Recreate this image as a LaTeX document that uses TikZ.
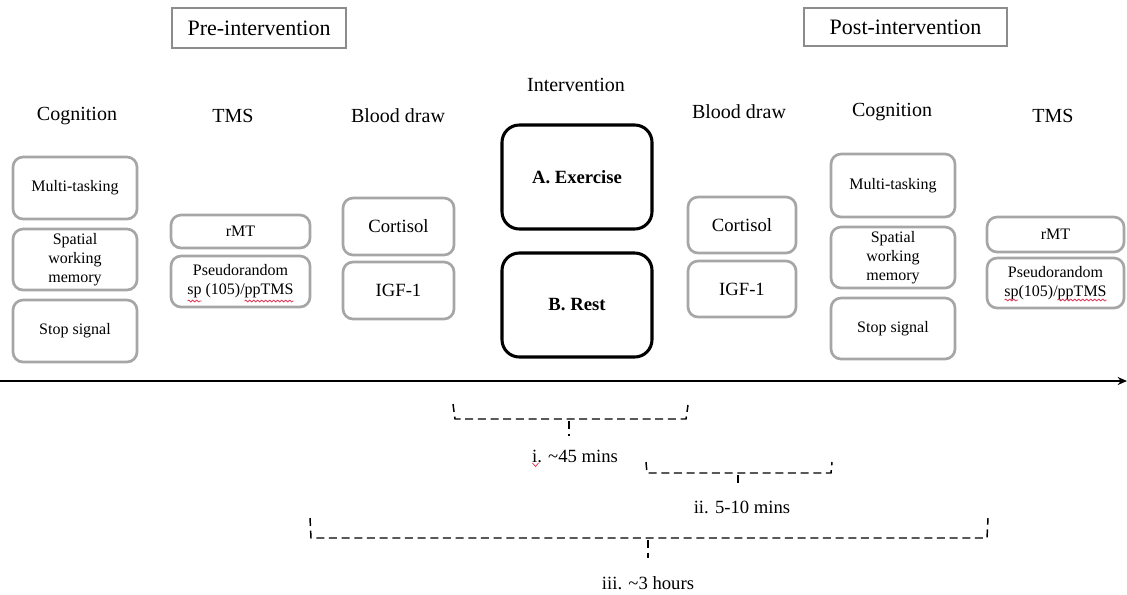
\documentclass[tikz,border=0pt]{standalone}
\usepackage{fontspec}
\setmainfont{Liberation Serif}
\usetikzlibrary{arrows.meta,decorations.pathmorphing}

\definecolor{boxgray}{RGB}{166,166,166}
\definecolor{framegray}{RGB}{140,140,140}
\definecolor{spellred}{RGB}{226,62,92}

\tikzset{every picture/.style={line width=0.75pt}}
\tikzset{
  phasebox/.style={draw=framegray, line width=0.9pt, inner sep=0pt, font=\fontsize{16.5}{19}\selectfont},
  colhead/.style={inner sep=0.75pt, font=\fontsize{15}{18}\selectfont},
  taskbox/.style={draw=boxgray, line width=2pt, rounded corners=7.5pt, inner sep=0pt, align=center, font=\fontsize{12}{14.25}\selectfont},
  bloodbox/.style={taskbox, font=\fontsize{14}{16}\selectfont},
  armbox/.style={draw=black, line width=2.3pt, rounded corners=13pt, inner sep=0pt, minimum width=112.5pt, minimum height=78pt, font=\bfseries\fontsize{14}{16}\selectfont},
  spanline/.style={line width=1.1pt, dash pattern={on 6pt off 3.5pt}},
  spanlabel/.style={inner sep=0.75pt, font=\fontsize{14}{16}\selectfont},
  squiggle/.style={spellred, line width=0.6pt, decorate, decoration={snake, amplitude=0.7pt, segment length=3pt}}
}

\begin{document}
\begin{tikzpicture}[x=0.75pt,y=0.75pt,yscale=-1,xscale=1]
	\useasboundingbox (0,0) rectangle (1127,594);
	
	% Phase labels
	\node [phasebox, minimum width=130.5pt, minimum height=30pt] (pre) at (259,28) {Pre-intervention};
	\node [phasebox, minimum width=152.25pt, minimum height=28.5pt] (post) at (905.5,27) {Post-intervention};
	
	% Text Node
	\node [colhead] (coghdpre) at (77,116) {Cognition};
	\node [colhead] (tmshdpre) at (233,116) {TMS};
	\node [colhead] (bloodhdpre) at (398,116) {Blood draw};
	\node [colhead] (armhd) at (576,85) {Intervention};
	\node [colhead] (bloodhdpost) at (739,112) {Blood draw};
	\node [colhead] (coghdpost) at (892,112) {Cognition};
	\node [colhead] (tmshdpost) at (1053,116) {TMS};
	
	%Rounded Rect  cognition, pre
	\node [taskbox, minimum width=93pt, minimum height=46.5pt] (multipre) at (75,188) {Multi-tasking};
	\node [taskbox, minimum width=93pt, minimum height=45.75pt] (spatialpre) at (75,259.5) {Spatial\\working\\memory};
	\node [taskbox, minimum width=93pt, minimum height=46.5pt] (stoppre) at (75,331) {Stop signal};
	
	%Rounded Rect  TMS, pre
	\node [taskbox, minimum width=104.25pt, minimum height=24.75pt] (rmtpre) at (240.5,231.5) {rMT};
	\node [taskbox, minimum width=104.25pt, minimum height=38.25pt] (pseudopre) at (240.5,281.5) {Pseudorandom\\sp (105)/ppTMS};
	
	%Rounded Rect  blood, pre
	\node [bloodbox, minimum width=83.25pt, minimum height=42.75pt] (cortpre) at (398.5,226.5) {Cortisol};
	\node [bloodbox, minimum width=83.25pt, minimum height=42.75pt] (igfpre) at (398.5,290.5) {IGF-1};
	
	%Rounded Rect  intervention
	\node [armbox] (exercise) at (577,177) {A. Exercise};
	\node [armbox] (rest) at (577,305) {B. Rest};
	
	%Rounded Rect  blood, post
	\node [bloodbox, minimum width=81pt, minimum height=42pt] (cortpost) at (742,225) {Cortisol};
	\node [bloodbox, minimum width=81pt, minimum height=42pt] (igfpost) at (742,289) {IGF-1};
	
	%Rounded Rect  cognition, post
	\node [taskbox, minimum width=93pt, minimum height=47.25pt] (multipost) at (893,185.5) {Multi-tasking};
	\node [taskbox, minimum width=93pt, minimum height=45.75pt] (spatialpost) at (893,257.5) {Spatial\\working\\memory};
	\node [taskbox, minimum width=93pt, minimum height=45.75pt] (stoppost) at (893,328.5) {Stop signal};
	
	%Rounded Rect  TMS, post
	\node [taskbox, minimum width=102.75pt, minimum height=26.25pt] (rmtpost) at (1055.5,234.5) {rMT};
	\node [taskbox, minimum width=102.75pt, minimum height=37.5pt] (pseudopost) at (1055.5,283) {Pseudorandom\\sp(105)/ppTMS};
	
	% spell check marks
	\draw [squiggle] (187.5,301) -- (201.5,301);
	\draw [squiggle] (244.5,301) -- (293.5,301);
	\draw [squiggle] (1004.5,300) -- (1018,300);
	\draw [squiggle] (1057.5,300) -- (1106.5,300);
	\draw [spellred, line width=0.6pt] (532.5,463) -- (535.5,466.5) -- (538.5,463);
	
	%Straight Lines  time axis
	\coordinate (axisstart) at (0,381);
	\coordinate (axisend) at (1127,381);
	\draw [line width=1.5pt, -{Stealth[length=7pt,width=6pt]}] (axisstart) -- (axisend);
	
	%Straight Lines  brackets
	\draw [spanline] (453,404) -- (455,419) -- (686,419) -- (688,405);
	\draw [spanline] (569,421) -- (569,436);
	\draw [spanline] (646,462) -- (647,473) -- (831,473) -- (832,462);
	\draw [spanline] (738,475) -- (738,485);
	\draw [spanline] (310,518) -- (311,538) -- (987,538) -- (988,518);
	\draw [spanline] (648,540) -- (648,558);
	
	% Text Node
	\node [spanlabel] (spanone) at (575,456) {i. \textasciitilde45 mins};
	\node [spanlabel] (spantwo) at (742,507) {ii. 5-10 mins};
	\node [spanlabel] (spanthree) at (648,583) {iii. \textasciitilde3 hours};
	
\end{tikzpicture}
\end{document}
